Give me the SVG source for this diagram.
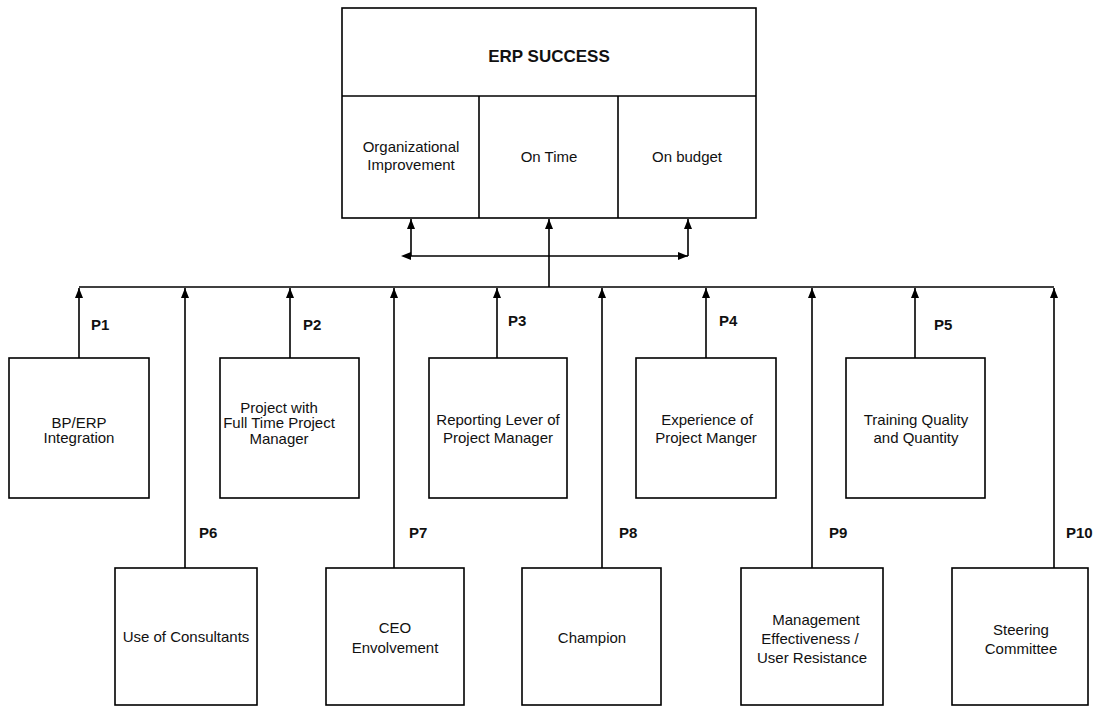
<svg xmlns="http://www.w3.org/2000/svg" width="1097" height="707" viewBox="0 0 1097 707">
<style>
.box{fill:#fff;stroke:#000;stroke-width:1.6}
.t{font-family:"Liberation Sans",Arial,sans-serif;font-size:15px;fill:#111;text-anchor:middle}
.title{font-family:"Liberation Sans",Arial,sans-serif;font-size:17px;font-weight:bold;fill:#111;text-anchor:middle}
.p{font-family:"Liberation Sans",Arial,sans-serif;font-size:15px;font-weight:bold;fill:#111}
.c{fill:none;stroke:#000;stroke-width:1.6}
</style>
<defs>
<marker id="ah" markerUnits="userSpaceOnUse" markerWidth="10" markerHeight="10" viewBox="0 0 10 10" refX="10" refY="5" orient="auto">
<path d="M0,1 L10,5 L0,9 Z" fill="#000"/>
</marker>
<marker id="ahs" markerUnits="userSpaceOnUse" markerWidth="10" markerHeight="10" viewBox="0 0 10 10" refX="0" refY="5" orient="auto-start-reverse">
<path d="M0,1 L10,5 L0,9 Z" fill="#000"/>
</marker>
</defs>
<g id="erp-success">
<rect class="box" x="342" y="8" width="414" height="210"/>
<line class="c" x1="342" y1="96" x2="756" y2="96"/>
<line class="c" x1="479" y1="96" x2="479" y2="218"/>
<line class="c" x1="618" y1="96" x2="618" y2="218"/>
<text class="title" x="549" y="62">ERP SUCCESS</text>
</g>
<g id="org-improvement">
<text class="t" x="411" y="152">Organizational</text>
<text class="t" x="411" y="170">Improvement</text>
</g>
<g id="on-time">
<text class="t" x="549" y="162">On Time</text>
</g>
<g id="on-budget">
<text class="t" x="687" y="162">On budget</text>
</g>
<g id="connectors">
<line class="c" x1="549" y1="287" x2="549" y2="219" marker-end="url(#ah)"/>
<line class="c" x1="411" y1="256" x2="688" y2="256" marker-start="url(#ahs)" marker-end="url(#ah)"/>
<line class="c" x1="411" y1="256" x2="411" y2="219" marker-end="url(#ah)"/>
<line class="c" x1="688" y1="256" x2="688" y2="219" marker-end="url(#ah)"/>
<line class="c" x1="79" y1="287" x2="1054" y2="287"/>
<line class="c" x1="79" y1="358" x2="79" y2="288" marker-end="url(#ah)"/>
<line class="c" x1="185" y1="568" x2="185" y2="288" marker-end="url(#ah)"/>
<line class="c" x1="290" y1="358" x2="290" y2="288" marker-end="url(#ah)"/>
<line class="c" x1="394" y1="568" x2="394" y2="288" marker-end="url(#ah)"/>
<line class="c" x1="497" y1="358" x2="497" y2="288" marker-end="url(#ah)"/>
<line class="c" x1="602" y1="568" x2="602" y2="288" marker-end="url(#ah)"/>
<line class="c" x1="706" y1="358" x2="706" y2="288" marker-end="url(#ah)"/>
<line class="c" x1="812" y1="568" x2="812" y2="288" marker-end="url(#ah)"/>
<line class="c" x1="915" y1="358" x2="915" y2="288" marker-end="url(#ah)"/>
<line class="c" x1="1054" y1="568" x2="1054" y2="288" marker-end="url(#ah)"/>
<text class="p" x="91" y="330">P1</text>
<text class="p" x="303" y="330">P2</text>
<text class="p" x="508" y="326">P3</text>
<text class="p" x="719" y="326">P4</text>
<text class="p" x="934" y="330">P5</text>
<text class="p" x="199" y="538">P6</text>
<text class="p" x="409" y="538">P7</text>
<text class="p" x="619" y="538">P8</text>
<text class="p" x="829" y="538">P9</text>
<text class="p" x="1066" y="538">P10</text>
</g>
<g id="p1-bp-erp">
<rect class="box" x="9" y="358" width="140" height="140"/>
<text class="t" x="79" y="428">BP/ERP</text>
<text class="t" x="79" y="443">Integration</text>
</g>
<g id="p2-full-time-pm">
<rect class="box" x="220" y="358" width="139" height="140"/>
<text class="t" x="279" y="413">Project with</text>
<text class="t" x="279" y="428">Full Time Project</text>
<text class="t" x="279" y="444">Manager</text>
</g>
<g id="p3-reporting">
<rect class="box" x="429" y="358" width="138" height="140"/>
<text class="t" x="498" y="425">Reporting Lever of</text>
<text class="t" x="498" y="443">Project Manager</text>
</g>
<g id="p4-experience">
<rect class="box" x="636" y="358" width="140" height="140"/>
<text class="t" x="707" y="425">Experience of</text>
<text class="t" x="706" y="443">Project Manger</text>
</g>
<g id="p5-training">
<rect class="box" x="846" y="358" width="139" height="140"/>
<text class="t" x="916" y="425">Training Quality</text>
<text class="t" x="916" y="443">and Quantity</text>
</g>
<g id="p6-consultants">
<rect class="box" x="115" y="568" width="142" height="137"/>
<text class="t" x="186" y="642">Use of Consultants</text>
</g>
<g id="p7-ceo">
<rect class="box" x="326" y="568" width="138" height="137"/>
<text class="t" x="395" y="633">CEO</text>
<text class="t" x="395" y="653">Envolvement</text>
</g>
<g id="p8-champion">
<rect class="box" x="522" y="568" width="139" height="137"/>
<text class="t" x="592" y="643">Champion</text>
</g>
<g id="p9-management">
<rect class="box" x="741" y="568" width="142" height="137"/>
<text class="t" x="816" y="625">Management</text>
<text class="t" x="810" y="644">Effectiveness /</text>
<text class="t" x="812" y="663">User Resistance</text>
</g>
<g id="p10-steering">
<rect class="box" x="952" y="568" width="136" height="137"/>
<text class="t" x="1021" y="635">Steering</text>
<text class="t" x="1021" y="654">Committee</text>
</g>
</svg>
